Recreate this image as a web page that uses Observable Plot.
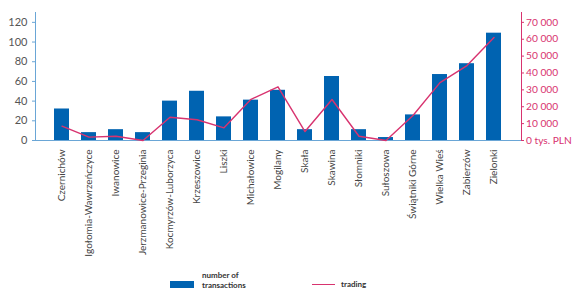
<!DOCTYPE html>
<html>
<head>
<meta charset="utf-8">
<script src="https://cdn.jsdelivr.net/npm/d3@7"></script>
<script src="https://cdn.jsdelivr.net/npm/@observablehq/plot@0.6"></script>
<style>
  html, body { margin: 0; padding: 0; background: #fff; }
  #wrap { position: relative; width: 572px; height: 289px; font-family: Lato, "Open Sans", sans-serif; }
  .lg { position: absolute; font-size: 8px; font-weight: bold; color: #333; line-height: 10px; }
</style>
</head>
<body>
<div id="wrap"></div>
<script>
const categories = ["Czernichów", "Igołomia-Wawrzeńczyce", "Iwanowice", "Jerzmanowice-Przeginia", "Kocmyrzów-Luborzyca", "Krzeszowice", "Liszki", "Michałowice", "Mogilany", "Skała", "Skawina", "Słomniki", "Sułoszowa", "Świątniki Górne", "Wielka Wieś", "Zabierzów", "Zielonki"];
const transactions = [32, 8, 11, 8, 40, 50, 24, 41, 51, 11, 65, 11, 3, 26, 67, 78, 109];
const trading = [8500, 2000, 2500, 0, 13800, 12300, 7500, 24400, 31800, 5300, 24300, 2500, 0, 14800, 34300, 44400, 61000];
const leftTicks = [0, 20, 40, 60, 80, 100, 120];
const rightTicks = [0, 10000, 20000, 30000, 40000, 50000, 60000, 70000];
const rightTickLabels = ["0 tys. PLN", "10 000", "20 000", "30 000", "40 000", "50 000", "60 000", "70 000"];

const K = 70000 / 120; // trading units per left-axis unit
const data = categories.map((c, i) => ({name: c, n: transactions[i], t: trading[i]}));

const blue = "#0063b1";
const pink = "#d8336f";
const axisBlue = "#6aa6d6";

const chart = Plot.plot({
  width: 572,
  height: 289,
  marginLeft: 35,
  marginRight: 51,
  marginTop: 12,
  marginBottom: 149,
  style: {fontFamily: "Lato, 'Open Sans', sans-serif", background: "transparent", overflow: "visible"},
  x: {type: "band", domain: categories, paddingInner: 0.426, paddingOuter: 0.59},
  y: {domain: [0, 130]},
  marks: [
    Plot.barY(data, {x: "name", y: "n", fill: blue}),
    Plot.ruleY([0], {stroke: axisBlue, strokeWidth: 1}),
    Plot.lineY(data, {x: "name", y: d => d.t / K, stroke: pink, strokeWidth: 1.4}),
    Plot.frame({anchor: "left", stroke: axisBlue}),
    Plot.frame({anchor: "right", stroke: pink}),
    Plot.axisY(leftTicks, {anchor: "left", tickSize: 3, tickPadding: 5, stroke: axisBlue, color: "#555", fontSize: 11, label: null}),
    Plot.axisY(rightTicks.map(v => v / K), {anchor: "right", tickSize: 2, tickPadding: 2.5, stroke: pink, color: pink, fontSize: 10.2, label: null,
      tickFormat: d => rightTickLabels[Math.round(d * K / 10000)]}),
    Plot.axisX({anchor: "bottom", tickRotate: -90, tickSize: 0, tickPadding: 9, fontSize: 10, color: "#444", label: null})
  ]
});

const wrap = document.getElementById("wrap");
wrap.appendChild(chart);

const sw = document.createElement("div");
sw.style.cssText = `position:absolute;left:170px;top:281px;width:24px;height:7px;background:${blue};`;
wrap.appendChild(sw);
const t1 = document.createElement("div");
t1.className = "lg";
t1.style.cssText = "left:202px;top:270px;";
t1.innerHTML = "number of<br>transactions";
wrap.appendChild(t1);
const ln = document.createElement("div");
ln.style.cssText = `position:absolute;left:312px;top:283.5px;width:23px;height:1.5px;background:${pink};`;
wrap.appendChild(ln);
const t2 = document.createElement("div");
t2.className = "lg";
t2.style.cssText = "left:341px;top:279px;";
t2.textContent = "trading";
wrap.appendChild(t2);
</script>
</body>
</html>
